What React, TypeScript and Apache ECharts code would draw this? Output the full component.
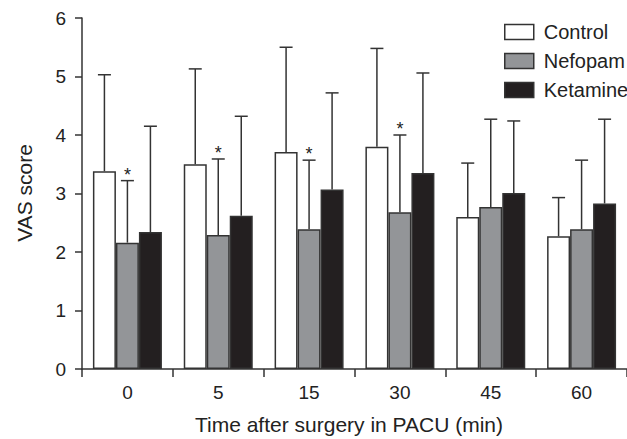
import React, { useEffect, useRef } from "react";
import * as echarts from "echarts";

const categories = ["0", "5", "15", "30", "45", "60"];
const seriesNames = ["Control", "Nefopam", "Ketamine"];
const controlMean = [3.38, 3.5, 3.71, 3.8, 2.6, 2.27];
const controlSD = [1.65, 1.63, 1.79, 1.68, 0.92, 0.66];
const nefopamMean = [2.16, 2.29, 2.39, 2.68, 2.77, 2.39];
const nefopamSD = [1.06, 1.3, 1.18, 1.32, 1.5, 1.18];
const ketamineMean = [2.34, 2.62, 3.07, 3.35, 3.01, 2.83];
const ketamineSD = [1.81, 1.7, 1.65, 1.71, 1.23, 1.44];
const nefopamSignificant = [true, true, true, true, false, false];
const yTicks = [0, 1, 2, 3, 4, 5, 6];

const fills = ["#ffffff", "#939598", "#231f20"];
const EDGE = "#333333";
const FONT = "Liberation Sans, Arial, sans-serif";
const BAR_W = 23;

export default function App() {
  const ref = useRef<HTMLDivElement>(null);
  useEffect(() => {
    if (!ref.current) return;
    const chart = echarts.init(ref.current, undefined, { renderer: "svg" });
    const means = [controlMean, nefopamMean, ketamineMean];
    const sds = [controlSD, nefopamSD, ketamineSD];
    const errData: any[] = [];
    means.forEach((m, s) => {
      m.forEach((v, i) => {
        errData.push([i, v, +(v + sds[s][i]).toFixed(2), s, s === 1 && nefopamSignificant[i] ? 1 : 0]);
      });
    });
    const option: any = {
      animation: false,
      backgroundColor: "#ffffff",
      textStyle: { fontFamily: FONT },
      grid: { left: 82, top: 18, width: 552, height: 351, containLabel: false },
      legend: {
        data: seriesNames,
        orient: "vertical",
        left: 499,
        top: 17,
        itemWidth: 29,
        itemHeight: 15,
        itemGap: 9,
        icon: "rect",
        textStyle: { fontSize: 20, color: "#222", fontFamily: FONT, padding: [0, 0, 0, 5] },
        itemStyle: { borderColor: EDGE, borderWidth: 1.5 },
        selectedMode: false,
      },
      xAxis: {
        type: "category",
        data: categories,
        boundaryGap: true,
        axisLine: { lineStyle: { color: EDGE, width: 1.5 } },
        axisTick: { show: true, length: 8, alignWithLabel: false, lineStyle: { color: EDGE, width: 1.5 } },
        axisLabel: { fontSize: 19, color: "#222", margin: 14, fontFamily: FONT },
      },
      yAxis: {
        type: "value",
        min: yTicks[0],
        max: yTicks[yTicks.length - 1],
        interval: 1,
        splitLine: { show: false },
        axisLine: { show: true, lineStyle: { color: EDGE, width: 1.5 } },
        axisTick: { show: true, length: 7, lineStyle: { color: EDGE, width: 1.5 } },
        axisLabel: { fontSize: 19, color: "#222", margin: 16, fontFamily: FONT },
      },
      graphic: [
        {
          type: "text",
          x: 349,
          y: 424,
          style: {
            text: "Time after surgery in PACU (min)",
            fontSize: 21,
            fontFamily: FONT,
            fill: "#222",
            textAlign: "center",
            textVerticalAlign: "middle",
          },
        },
        {
          type: "text",
          x: 24,
          y: 193,
          rotation: Math.PI / 2,
          style: {
            text: "VAS score",
            fontSize: 21,
            fontFamily: FONT,
            fill: "#222",
            textAlign: "center",
            textVerticalAlign: "middle",
          },
        },
      ],
      series: [
        ...seriesNames.map((name, s) => ({
          name,
          type: "bar",
          data: means[s],
          barWidth: BAR_W,
          barGap: "0%",
          itemStyle: { color: fills[s], borderColor: EDGE, borderWidth: 1.5 },
          z: 2,
        })),
        {
          type: "custom",
          name: "err",
          data: errData,
          encode: { x: 0, y: 2 },
          z: 3,
          renderItem: (params: any, api: any) => {
            const cat = api.value(0);
            const mean = api.value(1);
            const upper = api.value(2);
            const s = api.value(3);
            const sig = api.value(4);
            const center = api.coord([cat, 0])[0];
            const x = center + (s - 1) * BAR_W;
            const yTop = api.coord([cat, upper])[1];
            const yBot = api.coord([cat, mean])[1];
            const children: any[] = [
              { type: "line", shape: { x1: x, y1: yBot, x2: x, y2: yTop }, style: { stroke: EDGE, lineWidth: 1.5 } },
              { type: "line", shape: { x1: x - 6.5, y1: yTop, x2: x + 6.5, y2: yTop }, style: { stroke: EDGE, lineWidth: 1.5 } },
            ];
            if (sig) {
              children.push({
                type: "text",
                x: x,
                y: yTop + 3,
                style: {
                  text: "*",
                  fontSize: 18,
                  fontFamily: FONT,
                  fill: "#222",
                  textAlign: "center",
                  textVerticalAlign: "bottom",
                },
              });
            }
            return { type: "group", children };
          },
        },
      ],
    };
    chart.setOption(option);
    return () => chart.dispose();
  }, []);
  return (
    <div
      ref={ref}
      style={{ position: "fixed", left: 0, top: 0, width: 627, height: 439, background: "#fff" }}
    />
  );
}
